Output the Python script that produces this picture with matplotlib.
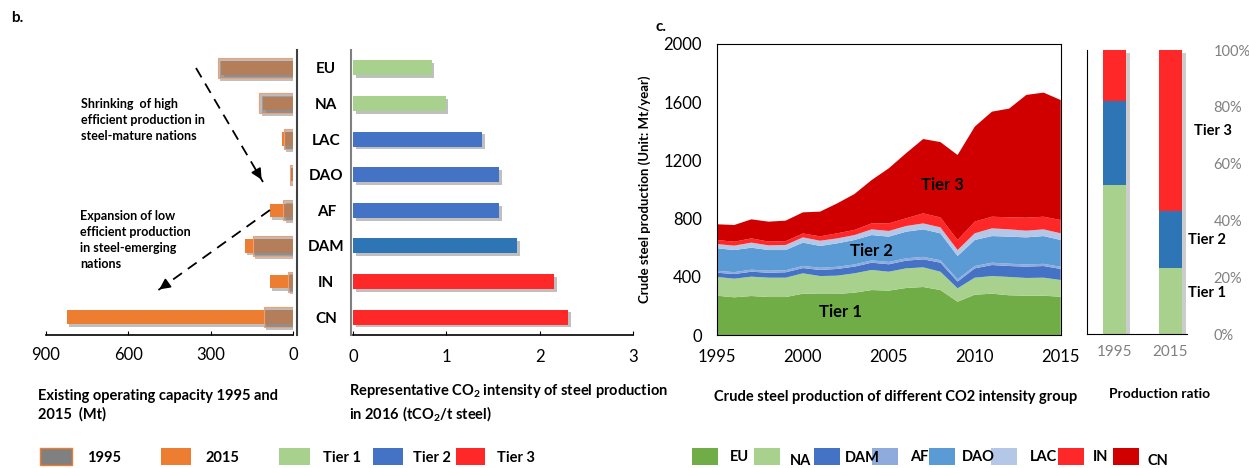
import numpy as np
import matplotlib.pyplot as plt
from matplotlib import patheffects as pe
from matplotlib.patches import Rectangle
from matplotlib.lines import Line2D

plt.rcParams['font.family'] = ['Lato', 'DejaVu Sans']
plt.rcParams['mathtext.fontset'] = 'custom'
plt.rcParams['mathtext.rm'] = 'Lato'
plt.rcParams['mathtext.bf'] = 'Lato:bold'

# ---- data ----
regions = ["EU", "NA", "LAC", "DAO", "AF", "DAM", "IN", "CN"]
cap_1995 = [275, 125, 35, 11, 37, 148, 21, 108]
cap_2015 = [262, 110, 40, 10, 86, 177, 86, 824]
intensity = [0.84, 0.99, 1.385, 1.565, 1.565, 1.76, 2.155, 2.31]
intensity_colors = ["#A9D18E", "#A9D18E", "#4472C4", "#4472C4", "#4472C4",
                    "#2E75B6", "#FF2828", "#FF2828"]

years = np.arange(1995, 2016)
eu = [270, 259, 268, 261, 261, 284, 282, 282, 291, 309, 305, 323, 330, 309, 229, 277, 284, 273, 270, 270, 263]
na = [129, 128, 133, 133, 133, 140, 123, 126, 133, 138, 130, 135, 135, 126, 92, 117, 121, 126, 122, 124, 115]
dam = [29, 32, 34, 34, 37, 36, 42, 46, 46, 50, 51, 53, 55, 62, 46, 64, 76, 75, 78, 80, 76]
af = [13, 13, 14, 14, 14, 15, 15, 15, 15, 16, 16, 16, 17, 17, 16, 16, 16, 16, 15, 15, 15]
dao = [155, 152, 151, 142, 139, 160, 150, 161, 168, 174, 174, 183, 189, 185, 160, 179, 183, 186, 186, 191, 184]
lac = [29, 30, 35, 32, 35, 36, 36, 34, 34, 39, 39, 39, 41, 41, 41, 46, 53, 50, 46, 46, 46]
ind = [28, 27, 29, 26, 26, 27, 30, 35, 35, 41, 52, 53, 69, 68, 69, 80, 80, 83, 89, 87, 91]
cn = [108, 115, 131, 137, 141, 145, 170, 206, 247, 298, 379, 447, 511, 518, 584, 653, 722, 747, 844, 853, 825]
area_colors = ["#70AD47", "#A9D18E", "#4472C4", "#8FAADC", "#5B9BD5", "#B4C7E7", "#FF2828", "#D00000"]

ratio_years = ["1995", "2015"]
tier_colors = ["#A9D18E", "#2E75B6", "#FF2828"]

W, H = 1249, 468
fig = plt.figure(figsize=(W / 100, H / 100), dpi=100)


def box(x0, y0, x1, y1):
    return [x0 / W, 1 - y1 / H, (x1 - x0) / W, (y1 - y0) / H]


only_shadow = [pe.SimplePatchShadow(offset=(2, -2), shadow_rgbFace="#808080", alpha=0.5)]
shadow = only_shadow + [pe.Normal()]
ypos = np.arange(len(regions))

# ---- b. left: capacity ----
ax1 = fig.add_axes(box(45.7, 50, 293.3, 335))
ax1.spines["top"].set_visible(False)
ax1.spines["left"].set_visible(False)
ax1.spines["right"].set_position(("outward", 3))
ax1.spines["right"].set_color("#404040")
ax1.spines["right"].set_linewidth(1.5)
ax1.spines["bottom"].set_linewidth(1.2)
# drop shadow of the 1995 bars, drawn first so it does not grey the 2015 bars
ax1.barh(ypos, cap_1995, height=0.56, facecolor="none", edgecolor="none", path_effects=only_shadow)
ax1.barh(ypos, cap_2015, height=0.38, color="#ED7D31", path_effects=shadow)
ax1.barh(ypos, cap_1995, height=0.56, facecolor=(0.5, 0.5, 0.5, 0.52),
         edgecolor="#F0A070", lw=0.8)
ax1.set_xlim(900, 0)
ax1.set_ylim(len(regions) - 0.5, -0.5)
ax1.set_yticks([])
ax1.set_xticks([900, 600, 300, 0])
ax1.tick_params(axis="x", direction="in", length=3, pad=9, labelsize=12)
ax1.text(-0.03, -0.19, "Existing operating capacity 1995 and\n2015  (Mt)", transform=ax1.transAxes,
         fontsize=10.5, fontweight="bold", va="top", ha="left", linespacing=1.3)

# ---- b. right: intensity ----
ax2 = fig.add_axes(box(353.3, 50, 632.7, 335))
ax2.spines["top"].set_visible(False)
ax2.spines["right"].set_visible(False)
ax2.spines["left"].set_position(("outward", 1.5))
ax2.spines["left"].set_color("#808080")
ax2.spines["left"].set_linewidth(1.5)
ax2.spines["bottom"].set_linewidth(1.2)
ax2.barh(ypos, intensity, height=0.42, color=intensity_colors, path_effects=shadow)
ax2.set_xlim(0, 3)
ax2.set_ylim(len(regions) - 0.5, -0.5)
ax2.set_xticks([0, 1, 2, 3])
ax2.tick_params(axis="x", direction="in", length=3, pad=10, labelsize=12)
ax2.set_yticks(ypos)
ax2.set_yticklabels(regions, fontweight="bold", fontsize=11, ha="center")
ax2.tick_params(axis="y", length=0, pad=18)
ax2.text(-0.015, -0.165, r"Representative CO$_\mathbf{2}$ intensity of steel production" "\n"
         r"in 2016 (tCO$_\mathbf{2}$/t steel)", transform=ax2.transAxes,
         fontsize=10.5, fontweight="bold", va="top", ha="left", linespacing=1.3)


# dashed arrows and notes
def fp(x, y):
    return (x / W, 1 - y / H)


for (x0, y0), (x1, y1) in [((196, 68), (263, 182)), ((270, 210), (157, 291))]:
    a, b = fp(x0, y0), fp(x1, y1)
    fig.add_artist(Line2D([a[0], b[0]], [a[1], b[1]], color="k", lw=1.3,
                          linestyle=(0, (6, 4))))
    back = (b[0] - (b[0] - a[0]) * 0.08, b[1] - (b[1] - a[1]) * 0.08)
    fig.add_artist(plt.Annotation("", xy=b, xytext=back, xycoords="figure fraction",
                                  textcoords="figure fraction",
                                  arrowprops=dict(arrowstyle="-|>", color="k",
                                                  mutation_scale=16, lw=1.2)))

fig.text(81 / W, 1 - 98 / H, "Shrinking  of high\nefficient production in\nsteel-mature nations",
         fontsize=9, fontweight="bold", va="top", linespacing=1.4)
fig.text(80 / W, 1 - 210 / H, "Expansion of low\nefficient production\nin steel-emerging\nnations",
         fontsize=9, fontweight="bold", va="top", linespacing=1.4)
fig.text(11 / W, 1 - 18 / H, "b.", fontsize=11, fontweight="bold", va="center")
fig.text(656 / W, 1 - 27 / H, "c.", fontsize=11, fontweight="bold", va="center")

# ---- c. stacked area ----
ax3 = fig.add_axes(box(717, 44, 1060.7, 335))
ax3.stackplot(years, eu, na, dam, af, dao, lac, ind, cn, colors=area_colors, lw=0)
ax3.set_xlim(1995, 2015)
ax3.set_ylim(0, 2000)
ax3.set_xticks(range(1995, 2016, 5))
ax3.set_yticks(range(0, 2001, 400))
ax3.tick_params(length=0, labelsize=12)
ax3.tick_params(axis="x", pad=10)
ax3.tick_params(axis="y", pad=11)
ax3.set_ylabel("Crude steel production (Unit: Mt/year)", fontsize=9.5, fontweight="bold", labelpad=9)
ax3.text(0.52, -0.19, "Crude steel production of different CO2 intensity group", transform=ax3.transAxes,
         fontsize=10.5, fontweight="bold", ha="center", va="top")
ax3.text(2008.1, 1030, "Tier 3", fontsize=12, fontweight="bold", ha="center", va="center")
ax3.text(2004.0, 575, "Tier 2", fontsize=12, fontweight="bold", ha="center", va="center")
ax3.text(2002.2, 160, "Tier 1", fontsize=12, fontweight="bold", ha="center", va="center")

# ---- production ratio ----
tot = np.array(eu) + np.array(na) + np.array(dam) + np.array(af) + np.array(dao) + \
    np.array(lac) + np.array(ind) + np.array(cn)
tier1 = (np.array(eu) + np.array(na)) / tot
tier2 = (np.array(dam) + np.array(af) + np.array(dao) + np.array(lac)) / tot
tier3 = (np.array(ind) + np.array(cn)) / tot
idx = [0, -1]
ax4 = fig.add_axes(box(1086.7, 50, 1187, 334))
ax4.spines["top"].set_visible(False)
ax4.spines["right"].set_visible(False)
ax4.bar([0, 1], [1, 1], width=0.41, color="white", zorder=1,
        path_effects=[pe.SimplePatchShadow(offset=(3, -2), shadow_rgbFace="#808080", alpha=0.4), pe.Normal()])
bottom = np.zeros(2)
for share, col in zip([tier1, tier2, tier3], tier_colors):
    vals = share[idx]
    ax4.bar([0, 1], vals, bottom=bottom, width=0.41, color=col, zorder=2)
    bottom += vals
ax4.set_xlim(-0.5, 1.3)
ax4.set_ylim(0, 1)
ax4.set_xticks([0, 1])
ax4.set_xticklabels(ratio_years)
ax4.yaxis.tick_right()
ax4.set_yticks(np.arange(0, 1.01, 0.2))
ax4.set_yticklabels([f"{int(round(v * 100))}%" for v in np.arange(0, 1.01, 0.2)], ha="left")
ax4.tick_params(length=0, labelsize=10.5, labelcolor="#808080")
ax4.tick_params(axis="y", pad=19)
ax4.tick_params(axis="x", pad=8, labelsize=11)
ax4.text(0.73, -0.19, "Production ratio", transform=ax4.transAxes,
         fontsize=10, fontweight="bold", ha="center", va="top")
ax4.text(1.07, 0.715, "Tier 3", transform=ax4.transAxes, fontsize=10.5, fontweight="bold", va="center")
ax4.text(1.01, 0.331, "Tier 2", transform=ax4.transAxes, fontsize=10.5, fontweight="bold", va="center")
ax4.text(1.01, 0.144, "Tier 1", transform=ax4.transAxes, fontsize=10.5, fontweight="bold", va="center")

# ---- legend row ----
legend_labels = ["1995", "2015", "Tier 1", "Tier 2", "Tier 3",
                 "EU", "NA", "DAM", "AF", "DAO", "LAC", "IN", "CN"]
legend_colors = ["#808080", "#ED7D31", "#A9D18E", "#4472C4", "#FF2828"] + area_colors
patch_x = [40, 161, 279, 373, 456, 692, 754, 814, 872, 929, 991, 1058, 1113]
patch_w = [32, 30, 31, 30, 29, 26, 26, 26, 26, 26, 26, 26, 26]
label_x = [87, 206, 323, 413, 497, 730, 790, 845, 910, 962, 1030, 1093, 1148]
label_y = [458, 458, 458, 458, 458, 457, 461, 458, 457, 457, 457, 457, 461]
for lab, col, px, pw, lx, ly in zip(legend_labels, legend_colors, patch_x, patch_w, label_x, label_y):
    ec = "#ED7D31" if lab == "1995" else "none"
    fig.add_artist(Rectangle((px / W, 1 - 465 / H), pw / W, 17 / H, facecolor=col,
                             edgecolor=ec, lw=1, transform=fig.transFigure))
    fig.text(lx / W, 1 - ly / H, lab, fontsize=10.5, fontweight="bold", va="center", ha="left")

fig.savefig("out.png", dpi=100)
